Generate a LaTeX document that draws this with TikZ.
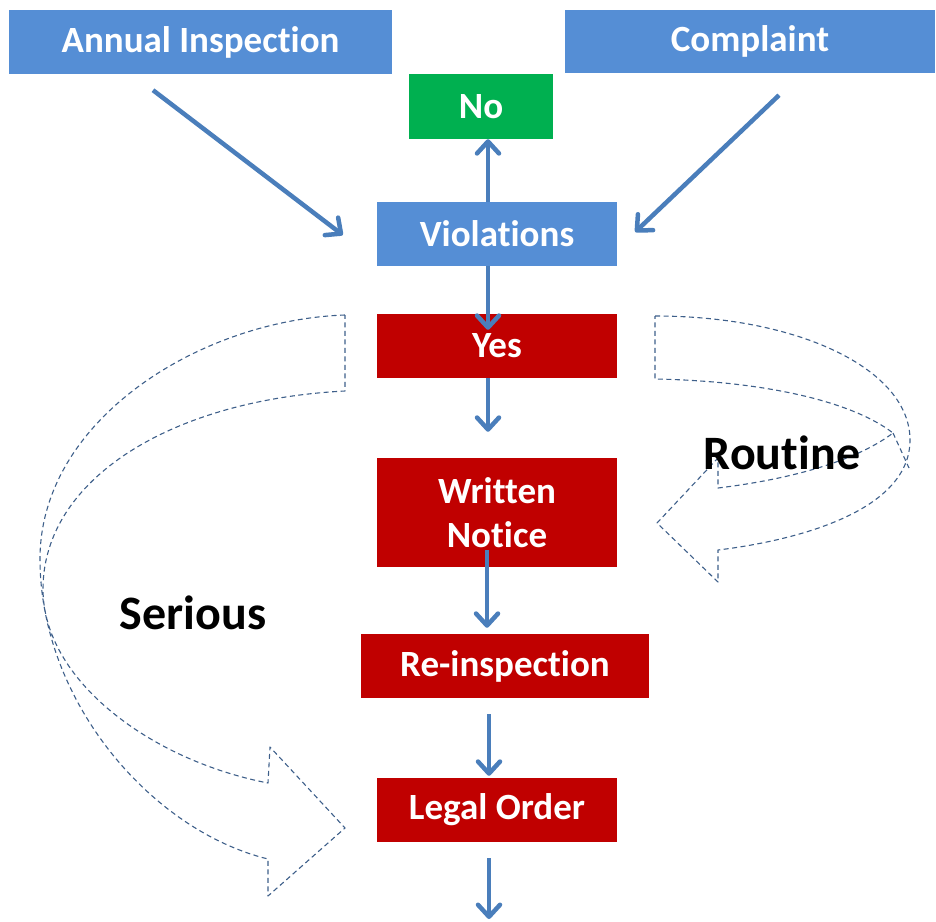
\documentclass[tikz,border=0pt]{standalone}
\usepackage{fontspec}
\setmainfont[Ligatures=NoCommon]{Carlito}
\usetikzlibrary{arrows.meta}
\definecolor{boxblue}{HTML}{558ED5}
\definecolor{arrowblue}{HTML}{4A7EBB}
\definecolor{boxred}{HTML}{C00000}
\definecolor{boxgreen}{HTML}{00B050}
\definecolor{dashblue}{HTML}{3E5F8A}
\tikzset{
  stepbox/.style={fill=#1, text=white, inner sep=0pt, font=\fontsize{37}{44}\selectfont\bfseries, align=center},
  flow/.style={draw=arrowblue, line width=4.5pt, -{Straight Barb[length=12pt,width=22pt,line cap=round,line join=round]}},
  turn/.style={draw=dashblue, line width=1.1pt, dash pattern=on 5pt off 3.5pt},
  tag/.style={font=\fontsize{48}{52}\selectfont\bfseries}
}
\begin{document}
\begin{tikzpicture}[x=1pt, y=-1pt, line join=round]
		\useasboundingbox (0,0) rectangle (936,921);
		\begin{scope}
			\node[stepbox=boxblue, minimum width=383pt, minimum height=64pt] (annual) at (200.5,42) {Annual Inspection};
			\node[stepbox=boxblue, minimum width=370pt, minimum height=63pt] (complaint) at (750,41.5) {Complaint};
			\node[stepbox=boxgreen, minimum width=144pt, minimum height=65pt] (no) at (481,106.5) {No};
			\node[stepbox=boxblue, minimum width=240pt, minimum height=64pt] (viol) at (497,234) {Violations};
			\node[stepbox=boxred, minimum width=240pt, minimum height=64pt] (yes) at (497,346) {Yes};
			\node[stepbox=boxred, minimum width=240pt, minimum height=109pt] (notice) at (497,512.5) {Written\\Notice};
			\node[stepbox=boxred, minimum width=288pt, minimum height=64pt] (reinsp) at (505,666) {Re-inspection};
			\node[stepbox=boxred, minimum width=240pt, minimum height=64pt] (legal) at (497,810) {Legal Order};
			\coordinate (out) at (489,919);
		\end{scope}
		\begin{scope}
			\draw[flow] ([xshift=-47.5pt,yshift=-16pt]annual.south) -- ([xshift=-34pt,yshift=-1pt]viol.west);
			\draw[flow] ([xshift=29pt,yshift=-22pt]complaint.south) -- ([xshift=18pt,yshift=2pt]viol.east);
			\draw[flow] ([xshift=-9pt]viol.north) -- ([xshift=7pt]no.south);
			\draw[flow] ([xshift=-9pt]viol.south) -- ([xshift=-9pt,yshift=-16pt]yes.north);
			\draw[flow] ([xshift=-9pt]yes.south) -- ([xshift=-9pt,yshift=26pt]notice.north);
			\draw[flow] ([xshift=-10pt,yshift=17pt]notice.south) -- ([xshift=-18pt,yshift=6pt]reinsp.north);
			\draw[flow] ([xshift=-16pt,yshift=-16pt]reinsp.south) -- ([xshift=-8pt,yshift=2pt]legal.north);
			\draw[flow] ([xshift=-8pt,yshift=-16pt]legal.south) -- (out);
		\end{scope}
		\begin{scope}
			\draw[turn] (345,315) .. controls (200,320) and (40,420) .. (40,559) .. controls (40,700) and (150,830) .. (268,859)
				-- (268,896) -- (345,828) -- (270,747) -- (268,783) .. controls (150,760) and (43,680) .. (43,589)
				.. controls (43,480) and (170,400) .. (345,391) -- cycle;
			\draw[turn] (655,316) .. controls (800,316) and (910,370) .. (910,440) .. controls (910,510) and (800,540) .. (718,550)
				-- (718,582) -- (657,523) -- (718,458) -- (718,488) .. controls (800,478) and (860,458) .. (893,433)
				.. controls (850,400) and (760,381) .. (655,379) -- cycle;
			\draw[turn] (893,433) -- (909,468);
			\node[tag] (routine) at (782,453) {Routine};
			\node[tag] (serious) at (193,613) {Serious};
		\end{scope}
	\end{tikzpicture}
\end{document}
